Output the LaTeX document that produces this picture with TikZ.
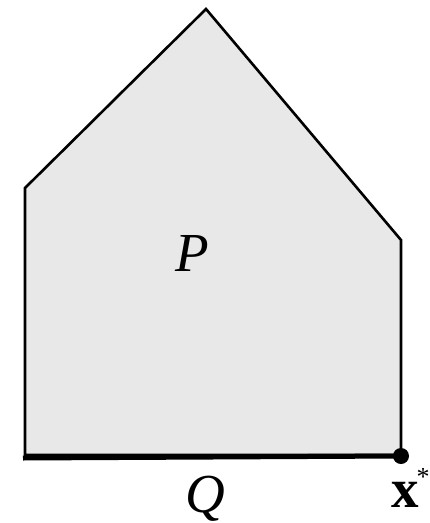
\documentclass[tikz,border=0pt]{standalone}
\usepackage{fontspec}
\setmainfont{Liberation Serif}
\begin{document}
\begin{tikzpicture}[x=1pt,y=-1pt,
  region/.style={draw=black,line width=2.6pt,fill=black!9,line join=miter},
  faceline/.style={line width=5pt},
  lbl/.style={inner sep=0pt,font=\fontsize{55}{60}\selectfont},
  optpt/.style={circle,fill=black,inner sep=0pt,minimum size=16pt}]
\useasboundingbox (0,0) rectangle (430,523);
\coordinate (bl) at (25,455);
\coordinate (tl) at (25,188);
\coordinate (top) at (206,9);
\coordinate (tr) at (401,240);
\coordinate (br) at (401,455);
\draw[region] (bl) -- (tl) -- (top) -- (tr) -- (br) -- cycle;
\coordinate (q0) at (23,458);
\node[optpt] (xs) at (401,456) {};
\draw[faceline] (q0) -- (xs.center);
\node[lbl,anchor=base] (P) at (192,271) {\textit{P}};
\node[lbl,anchor=base] (Q) at (205,512) {\textit{Q}};
\node[lbl,anchor=base west] (X) at (391,507) {\textbf{x}};
\node[inner sep=0pt,font=\fontsize{26}{30}\selectfont] (ast) at (423,477) {*};
\end{tikzpicture}
\end{document}
